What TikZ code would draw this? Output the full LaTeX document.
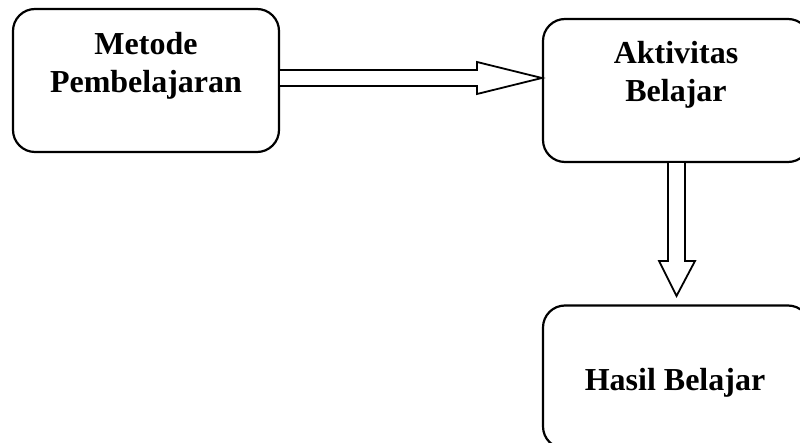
\documentclass[tikz,border=0pt]{standalone}
\usepackage{fontspec}
\setmainfont{Liberation Serif}
\usetikzlibrary{calc}
\begin{document}
\begin{tikzpicture}[x=1pt,y=-1pt,line join=miter]
\tikzset{
  box/.style={draw, line width=2.2pt, rounded corners=22pt, inner sep=0pt},
  lbl/.style={font=\bfseries\fontsize{32}{38}\selectfont, align=center, inner sep=0pt},
  blockarrow/.style={draw, line width=1.8pt, fill=white}
}
\useasboundingbox (0,0) rectangle (800,443);
\clip (0,0) rectangle (800,443);
\node[box, minimum width=266pt, minimum height=143pt] (b1) at (146,80.5) {};
\node[box, minimum width=267pt, minimum height=143pt] (b2) at (676.5,90.5) {};
\node[box, minimum width=267pt, minimum height=143pt] (b3) at (676.5,377) {};
\node[lbl, anchor=base] (t1) at (146,93) {Metode\\Pembelajaran};
\node[lbl, anchor=base] (t2) at (676,102) {Aktivitas\\Belajar};
\node[lbl, anchor=base] (t3) at (675,390) {Hasil Belajar};
\coordinate (htip) at (b2.west |- 0,78);
\draw[blockarrow] (b1.east |- 0,70) -- (477,70) -- (477,62) -- (htip)
  -- (477,94) -- (477,86) -- (b1.east |- 0,86);
\coordinate (vtip) at ($(b3.north)+(0,-9)$);
\draw[blockarrow] (668,0 |- b2.south) -- (668,261) -- (659,261) -- (vtip |- 0,296)
  -- (695,261) -- (685,261) -- (685,0 |- b2.south);
\end{tikzpicture}
\end{document}
